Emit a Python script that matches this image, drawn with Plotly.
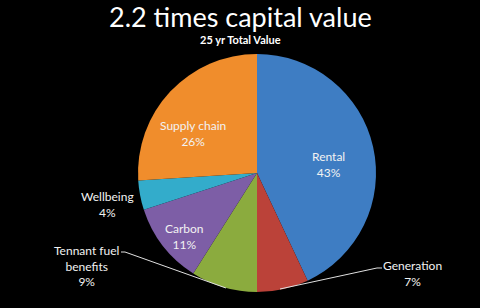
import plotly.graph_objects as go

categories = ["Rental", "Generation", "Tennant fuel benefits", "Carbon", "Wellbeing", "Supply chain"]
values = [43, 7, 9, 11, 4, 26]
label_texts = ["Rental<br>43%", "Generation<br>7%", "Tennant fuel<br>benefits<br>9%",
               "Carbon<br>11%", "Wellbeing<br>4%", "Supply chain<br>26%"]
colors = ["#3e7dc3", "#bb4239", "#8bab3e", "#7d5ea6", "#33accb", "#f08d2c"]

W, H = 480, 308
# label centre positions in pixels (layout only)
label_pos = [(328, 164), (412, 273), (86, 266), (184, 237), (107, 204), (193, 133)]

fig = go.Figure(go.Pie(
    labels=categories, values=values, sort=False, direction="clockwise", rotation=0,
    marker=dict(colors=colors, line=dict(width=0)),
    textinfo="none", hoverinfo="label+percent", showlegend=False,
    domain=dict(x=[138 / W, 376 / W], y=[1 - 292 / H, 1 - 54 / H]),
))

annotations = [
    dict(text="2.2 times capital value", x=0.5, y=1 - 16 / H, xref="paper", yref="paper",
         showarrow=False, xanchor="center", yanchor="middle",
         font=dict(family="Lato, sans-serif", size=27, color="white")),
    dict(text="<b>25 yr Total Value</b>", x=0.5, y=1 - 39 / H, xref="paper", yref="paper",
         showarrow=False, xanchor="center", yanchor="middle",
         font=dict(family="Lato, sans-serif", size=11, color="white")),
]
for txt, (px, py) in zip(label_texts, label_pos):
    annotations.append(dict(text=txt, x=px / W, y=1 - py / H, xref="paper", yref="paper",
                            showarrow=False, xanchor="center", yanchor="middle",
                            font=dict(family="Lato, sans-serif", size=12, color="#f2f2f2")))

def P(px, py):
    return f"{px / W:.4f},{1 - py / H:.4f}"

shapes = [
    dict(type="path", xref="paper", yref="paper",
         path=f"M{P(280, 289)} L{P(377, 268)} L{P(382, 268)}",
         line=dict(color="#e0e0e0", width=1)),
    dict(type="path", xref="paper", yref="paper",
         path=f"M{P(121, 252)} L{P(125, 252)} L{P(226, 288)}",
         line=dict(color="#e0e0e0", width=1)),
]

fig.update_layout(
    width=W, height=H, margin=dict(l=0, r=0, t=0, b=0),
    paper_bgcolor="black", plot_bgcolor="black",
    annotations=annotations, shapes=shapes,
)
fig.write_html("out.html")
